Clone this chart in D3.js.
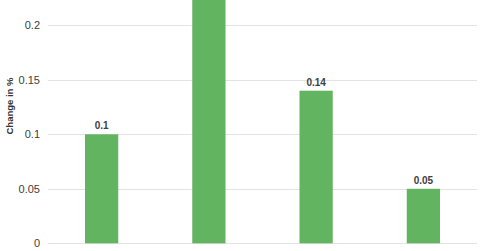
<!DOCTYPE html>
<html>
<head>
<meta charset="utf-8">
<script src="https://cdn.jsdelivr.net/npm/d3@7"></script>
<style>
  html, body { margin: 0; padding: 0; background: #fff; overflow: hidden; }
  svg { display: block; font-family: "Liberation Sans", Arial, sans-serif; }
</style>
</head>
<body>
<svg width="480" height="251"></svg>
<script>
const categories = ['A', 'B', 'C', 'D'];
const values = [0.1, 0.24, 0.14, 0.05];
const yTicks = [0, 0.05, 0.1, 0.15, 0.2];
const yTickLabels = ['0', '0.05', '0.1', '0.15', '0.2'];

const svg = d3.select('svg');
const margin = { left: 48, right: 3 };
const width = 480;
const y0 = 243.3;
const pxPerUnit = 1090;

const x = d3.scaleBand()
      .domain(categories)
      .range([margin.left, width - margin.right])
      .paddingInner(0.69)
      .paddingOuter(0.345);

const y = d3.scaleLinear()
      .domain([0, 0.25])
      .range([y0, y0 - 0.25 * pxPerUnit]);

// grid lines
svg.append('g')
      .selectAll('line')
      .data(yTicks)
      .enter()
      .append('line')
      .attr('x1', margin.left)
      .attr('x2', width - margin.right)
      .attr('y1', d => Math.round(y(d)) + 0.5)
      .attr('y2', d => Math.round(y(d)) + 0.5)
      .attr('stroke', '#e3e3e3')
      .attr('stroke-width', 1);

// y axis labels
const yAxis = d3.axisLeft(y)
      .tickValues(yTicks)
      .tickFormat((d, i) => yTickLabels[i])
      .tickSize(0)
      .tickPadding(0);
const gy = svg.append('g')
      .attr('transform', 'translate(40,0)')
      .call(yAxis);
gy.select('.domain').remove();
gy.selectAll('text')
      .attr('font-size', 11)
      .attr('font-family', '"Liberation Sans", Arial, sans-serif')
      .attr('fill', '#404040');

svg.append('text')
      .attr('transform', 'translate(12.5,106) rotate(-90)')
      .attr('text-anchor', 'middle')
      .attr('font-size', 9.5)
      .attr('font-weight', 'bold')
      .attr('fill', '#333')
      .text('Change in %');

// bars
svg.append('g')
      .selectAll('rect')
      .data(values)
      .enter()
      .append('rect')
      .attr('x', (d, i) => x(categories[i]))
      .attr('width', x.bandwidth())
      .attr('y', d => y(d))
      .attr('height', d => y(0) - y(d))
      .attr('fill', '#63b461');

// value labels (the tallest bar's label sits above the visible area)
svg.append('g')
      .selectAll('text')
      .data(values.map((v, i) => ({ v, c: categories[i] })).filter(d => y(d.v) - 5 > 12))
      .enter()
      .append('text')
      .attr('x', d => x(d.c) + x.bandwidth() / 2)
      .attr('y', d => y(d.v) - 5)
      .attr('text-anchor', 'middle')
      .attr('font-size', 10)
      .attr('font-weight', 'bold')
      .attr('fill', '#404040')
      .text(d => d.v);
</script>
</body>
</html>
